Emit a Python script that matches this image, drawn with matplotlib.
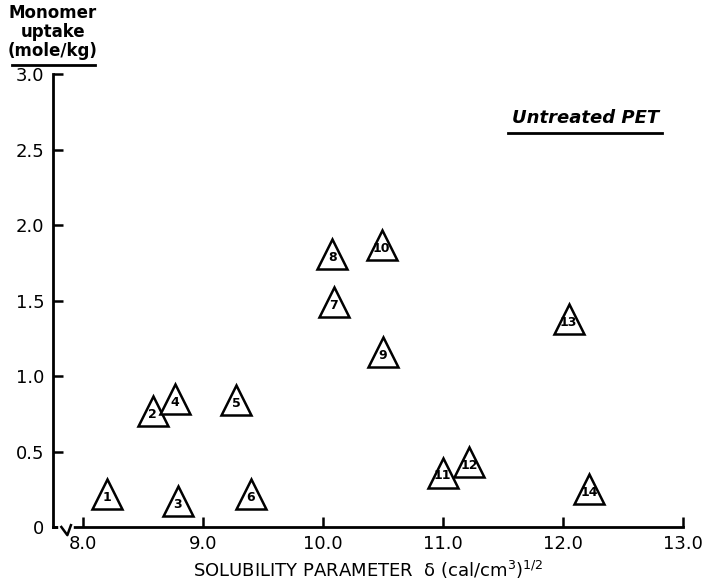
import matplotlib.pyplot as plt

# solvent numbers, solubility parameter and monomer uptake
labels = ["1", "2", "3", "4", "5", "6", "7", "8", "9", "10", "11", "12", "13", "14"]
delta = [8.2, 8.58, 8.79, 8.77, 9.28, 9.4, 10.09, 10.08, 10.5, 10.49, 11.0, 11.22, 12.05, 12.22]
uptake = [0.22, 0.77, 0.17, 0.85, 0.84, 0.22, 1.49, 1.81, 1.16, 1.87, 0.36, 0.43, 1.38, 0.25]

xticks = [8.0, 9.0, 10.0, 11.0, 12.0, 13.0]
yticks = [0, 0.5, 1.0, 1.5, 2.0, 2.5, 3.0]
ytick_labels = ["0", "0.5", "1.0", "1.5", "2.0", "2.5", "3.0"]

fig = plt.figure(figsize=(7.06, 5.8), dpi=100)
ax = fig.add_axes([0.075, 0.0914, 0.892, 0.7806])

ax.plot(delta, uptake, linestyle="none", marker="^", markersize=22,
        markerfacecolor="white", markeredgecolor="black", markeredgewidth=1.8, zorder=3)
for lab, x, y in zip(labels, delta, uptake):
    ax.text(x, y - 0.022, lab, ha="center", va="center", fontsize=9,
            fontweight="bold", zorder=4)

ax.set_xlim(7.75, 13.0)
ax.set_ylim(0, 3.0)
ax.set_xticks(xticks)
ax.set_xticklabels([f"{t:.1f}" for t in xticks])
ax.set_yticks(yticks)
ax.set_yticklabels(ytick_labels)
ax.tick_params(direction="in", length=7, width=1.8, labelsize=13, pad=6)
for s in ["top", "right"]:
    ax.spines[s].set_visible(False)
for s in ["left", "bottom"]:
    ax.spines[s].set_linewidth(2)

# axis break near origin
tr = ax.get_xaxis_transform()
ax.plot([7.82, 7.9], [0, 0], color="white", lw=4, transform=tr, clip_on=False, zorder=5)
ax.plot([7.82, 7.87, 7.9], [0, -0.018, 0.004], color="black", lw=1.8,
        transform=tr, clip_on=False, zorder=6)

ax.set_xlabel("SOLUBILITY PARAMETER  δ (cal/cm$^3$)$^{1/2}$", fontsize=13, labelpad=4)

fig.text(0.075, 0.897, "Monomer\nuptake\n(mole/kg)", ha="center", va="bottom",
         fontsize=12, fontweight="bold", linespacing=1.05)
fig.add_artist(plt.Line2D([0.017, 0.135], [0.888, 0.888], color="black", lw=2))

ax.text(0.845, 0.903, "Untreated PET", transform=ax.transAxes, ha="center", va="center",
        fontsize=13, fontweight="bold", style="italic")
ax.plot([0.722, 0.967], [0.87, 0.87], color="black", lw=2, transform=ax.transAxes,
        clip_on=False)

fig.savefig("out.png", dpi=100)
